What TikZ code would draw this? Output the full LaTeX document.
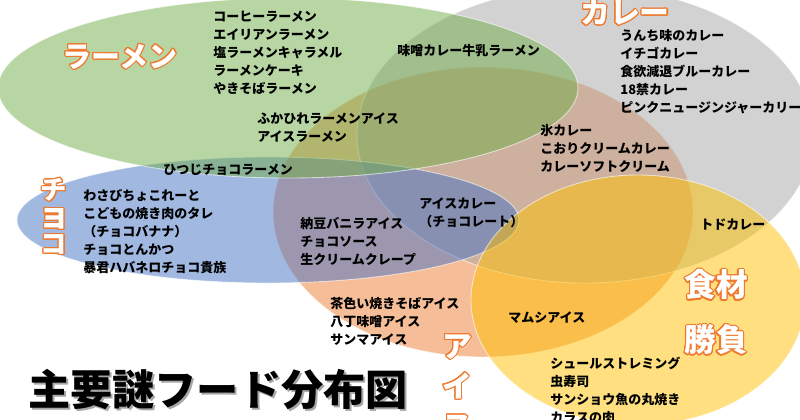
\documentclass[tikz,border=0pt]{standalone}
\usepackage{fontspec}
\setmainfont{Noto Sans CJK JP}
\usepackage{contour}
\contourlength{0.6pt}
\contournumber{24}
\definecolor{venngreen}{HTML}{70AD47}
\definecolor{venngrey}{HTML}{A5A5A5}
\definecolor{vennblue}{HTML}{4472C4}
\definecolor{vennorange}{HTML}{ED7D31}
\definecolor{vennyellow}{HTML}{FFC000}
\definecolor{labelorange}{HTML}{EE7A30}
\newcommand{\outlined}[1]{\contour{labelorange}{\textcolor{white}{#1}}}
\begin{document}
\begin{tikzpicture}[x=0.02cm, y=-0.02cm, every node/.style={inner sep=0pt},
	item/.style={anchor=north west, align=left, font=\fontsize{7.4}{10.2}\selectfont\bfseries}]
\useasboundingbox (0,0) rectangle (800,419);
\clip (0,0) rectangle (800,419);
% kola
\foreach \c/\x/\y/\rx/\ry in {vennorange/483/212/210/145, venngrey/585/135/228/148,
		vennblue/268/220/251/63, venngreen/288/88/290/90, vennyellow/638/300/167/125}
	\filldraw[fill=\c, fill opacity=0.5, draw=white, draw opacity=0.6, line width=0.5pt]
		(\x,\y) ellipse [x radius=\rx, y radius=\ry];
% duze napisy
\node[font=\fontsize{16.5}{16.5}\selectfont\bfseries] (lblramen) at (120,57) {\outlined{ラーメン}};
\node[font=\fontsize{17}{17}\selectfont\bfseries] (lblcurry) at (625,13) {\outlined{カレー}};
\node[align=center, font=\fontsize{15}{15.4}\selectfont\bfseries] (lblchoco) at (54,217)
	{\outlined{チ}\\\outlined{\fontsize{18}{15.4}\selectfont ョ}\\\outlined{コ}};
\node[align=center, font=\fontsize{17}{22.8}\selectfont\bfseries] (lblice) at (457,387)
	{\outlined{ア}\\\outlined{イ}\\\outlined{ス}};
\node[align=center, font=\fontsize{18}{31.3}\selectfont\bfseries] (lblfood) at (716,313)
	{\outlined{食材}\\\outlined{勝負}};
\node[text=black!35, font=\fontsize{24}{24}\selectfont\bfseries] (titleshadow) at (220,392) {主要謎フード分布図};
\node[font=\fontsize{24}{24}\selectfont\bfseries] (title) at (218,390) {主要謎フード分布図};
% listy
\node[item] (ramenlist) at (213,11) {コーヒーラーメン\\エイリアンラーメン\\塩ラーメンキャラメル\\ラーメンケーキ\\やきそばラーメン};
\node[item] (misolbl) at (397,44) {味噌カレー牛乳ラーメン};
\node[item] (fukahire) at (257,112) {ふかひれラーメンアイス\\アイスラーメン};
\node[item] (hitsuji) at (163,164) {ひつじチョコラーメン};
\node[item] (currylist) at (620,29) {うんち味のカレー\\イチゴカレー\\食欲減退ブルーカレー\\18禁カレー\\ピンクニュージンジャーカリー};
\node[item] (korilist) at (540,124) {氷カレー\\こおりクリームカレー\\カレーソフトクリーム};
\node[item] (chocolist) at (83,189) {わさびちょこれーと\\こどもの焼き肉のタレ\\（チョコバナナ）\\チョコとんかつ\\暴君ハバネロチョコ貴族};
\node[item] (icecurry) at (419,197) {アイスカレー\\（チョコレート）};
\node[item] (nattolist) at (300,217) {納豆バニラアイス\\チョコソース\\生クリームクレープ};
\node[item] (chairolist) at (330,297) {茶色い焼きそばアイス\\八丁味噌アイス\\サンマアイス};
\node[item] (mamushi) at (508,311) {マムシアイス};
\node[item] (todo) at (700,219) {トドカレー};
\node[item] (yellowlist) at (550,357) {シュールストレミング\\虫寿司\\サンショウ魚の丸焼き\\カラスの肉};
\end{tikzpicture}
\end{document}
